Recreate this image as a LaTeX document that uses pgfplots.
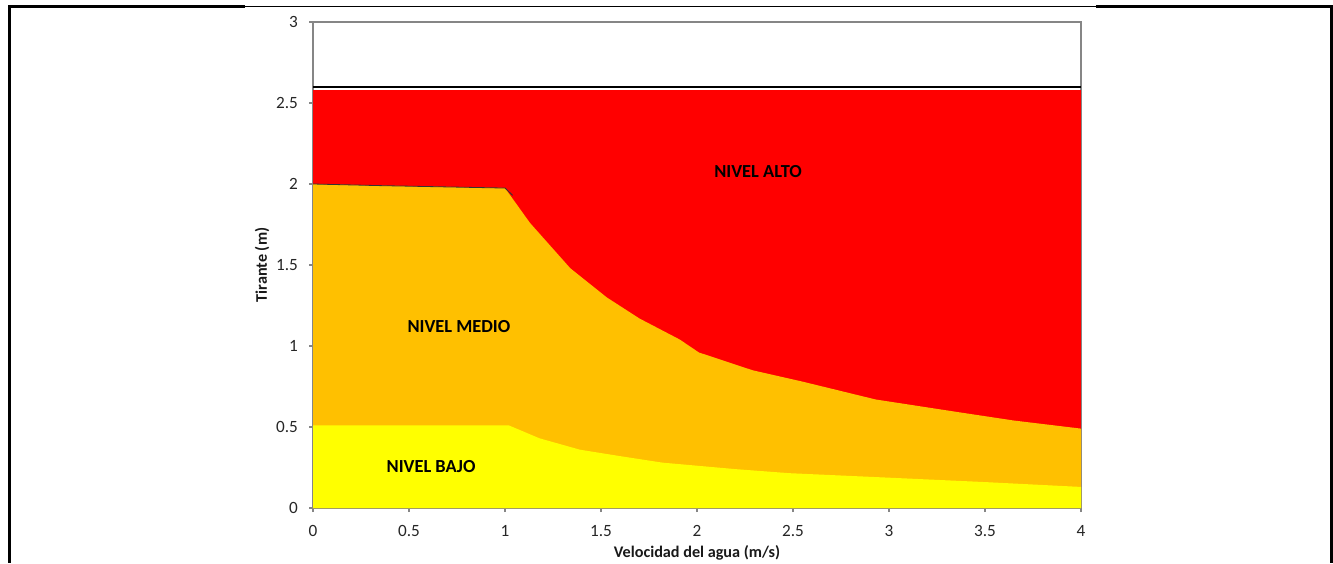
\documentclass[border=0pt]{standalone}
\usepackage{pgfplots}
\pgfplotsset{compat=1.18}
\usepackage{fontspec}
\setmainfont{Carlito}
\definecolor{cred}{HTML}{FF0000}
\definecolor{corange}{HTML}{FFC000}
\definecolor{cyellow}{HTML}{FFFF00}
\definecolor{axgrey}{HTML}{868686}
\begin{document}
\begin{tikzpicture}
\path[use as bounding box] (0,0) rectangle (666.5pt,281.5pt);
% page frame
\draw[line width=1.3pt] (4.6pt,278.2pt) -- (122.5pt,278.2pt);
\draw[line width=0.5pt] (122.5pt,278.4pt) -- (548pt,278.4pt);
\draw[line width=1.3pt] (548pt,278.2pt) -- (666pt,278.2pt);
\draw[line width=1.3pt] (4.6pt,278.85pt) -- (4.6pt,0pt);
\draw[line width=1.3pt] (665.6pt,278.85pt) -- (665.6pt,0pt);
\begin{axis}[
  at={(156.5pt,27.5pt)}, anchor=south west,
  scale only axis, width=384pt, height=243pt,
  xmin=0, xmax=4, ymin=0, ymax=3,
  xtick={0,0.5,...,4}, ytick={0,0.5,...,3},
  tick align=outside, tick pos=left, major tick length=2pt,
  axis line style={axgrey, line width=0.6pt},
  every tick/.style={axgrey, line width=0.6pt},
  /pgf/number format/assume math mode=true,
  ticklabel style={font=\fontsize{8.6}{10}\selectfont, text=black!85},
  xticklabel style={yshift=-3pt},
  yticklabel style={xshift=-2pt},
  every axis x label/.style={at={(axis description cs:0.5,0)}, anchor=center, yshift=-22.5pt},
  every axis y label/.style={at={(axis description cs:0,0.5)}, rotate=90, anchor=center, yshift=25.5pt},
  label style={font=\fontsize{8.1}{9}\selectfont\bfseries, text=black!90},
  xlabel={Velocidad del agua (m/s)},
  ylabel={Tirante (m)},
]
% NIVEL ALTO
\addplot[fill=cred, draw=none] coordinates {(0,2.58) (4,2.58)} \closedcycle;
% NIVEL MEDIO
\addplot[fill=corange, draw=none] coordinates {
 (0,2.0) (0.35,1.99) (1.0,1.975) (1.13,1.76) (1.34,1.48) (1.53,1.30) (1.70,1.17)
 (1.91,1.04) (2.01,0.96) (2.29,0.85) (2.55,0.78) (2.93,0.67) (3.37,0.59) (3.65,0.54) (4.0,0.49)
} \closedcycle;
% NIVEL BAJO
\addplot[fill=cyellow, draw=none] coordinates {
 (0,0.51) (1.02,0.51) (1.18,0.43) (1.39,0.36) (1.6,0.32) (1.82,0.28) (2.2,0.24)
 (2.48,0.215) (3.04,0.185) (3.5,0.16) (4.0,0.13)
} \closedcycle;
% thin outline at top of medio
\addplot[black!80, line width=0.4pt] coordinates {(0,2.0) (0.35,1.99) (1.0,1.975) (1.04,1.93)};
% boundary line at 2.6
\addplot[black, line width=1.1pt] coordinates {(0,2.6) (4,2.6)};
\node[font=\fontsize{9.2}{11}\selectfont\bfseries] at (axis cs:2.318,2.08) {NIVEL ALTO};
\node[font=\fontsize{9.2}{11}\selectfont\bfseries] at (axis cs:0.76,1.123) {NIVEL MEDIO};
\node[font=\fontsize{9.2}{11}\selectfont\bfseries] at (axis cs:0.615,0.253) {NIVEL BAJO};
\end{axis}
\end{tikzpicture}
\end{document}
